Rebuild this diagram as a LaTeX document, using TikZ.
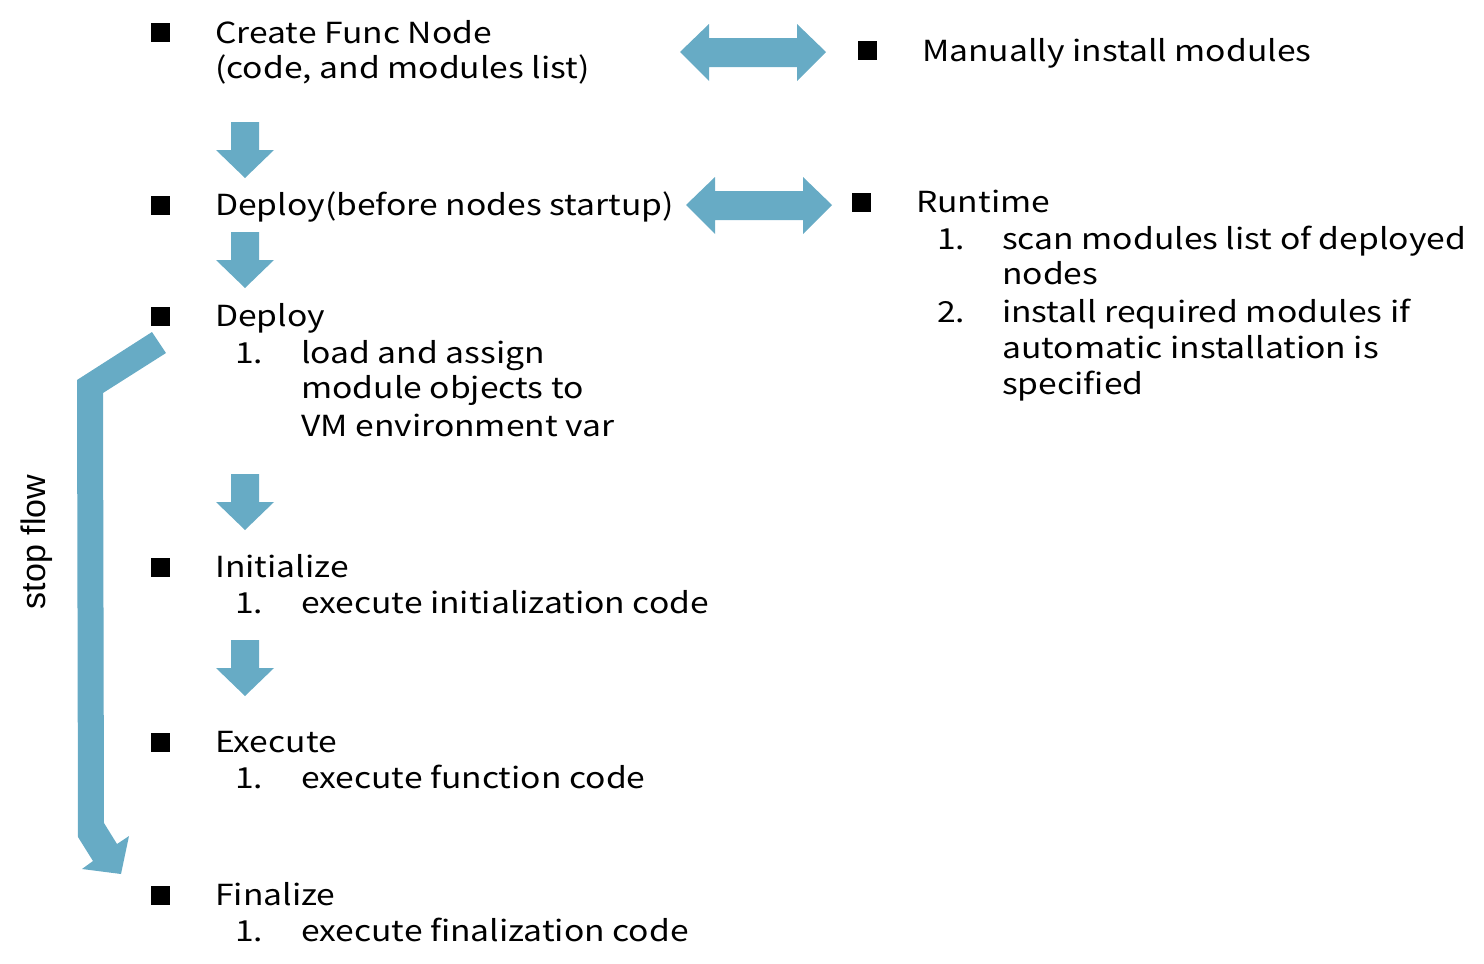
\documentclass[tikz,border=0pt]{standalone}
\usepackage{fontspec}
\newfontfamily\jpfont[FakeStretch=1.16]{Noto Sans CJK JP}
\newfontfamily\arialfont{Liberation Sans}
\definecolor{arrowblue}{RGB}{103,171,197}
\begin{document}
\begin{tikzpicture}[x=1pt,y=-1pt,
  txt/.style={anchor=base west,inner sep=0pt,font=\jpfont\fontsize{29}{35}\selectfont},
  sq/.style={fill=black,inner sep=0pt,minimum size=19pt},
  blockarrow/.style={fill=arrowblue,draw=none}]
\useasboundingbox (0,0) rectangle (1484,964);
% bullets
\node[sq] (b1) at (160,32) {};
\node[sq] (b2) at (160,205) {};
\node[sq] (b3) at (160,316) {};
\node[sq] (b4) at (160,567) {};
\node[sq] (b5) at (160,742) {};
\node[sq] (b6) at (160,895) {};
\node[sq] (b7) at (867,50) {};
\node[sq] (b8) at (861,202) {};
% left column text
\node[txt] (t1) at (215,43) {Create Func Node};
\node[txt] (t1b) at (215,78) {(code, and modules list)};
\node[txt] (t2) at (215,215) {Deploy(before nodes startup)};
\node[txt] (t3) at (215,326) {Deploy};
\node[txt] (t3n) at (235,363) {1.};
\node[txt] (t3a) at (301,363) {load and assign};
\node[txt] (t3b) at (301,398) {module objects to};
\node[txt] (t3c) at (301,436) {VM environment var};
\node[txt] (t4) at (215,577) {Initialize};
\node[txt] (t4n) at (235,613) {1.};
\node[txt] (t4a) at (301,613) {execute initialization code};
\node[txt] (t5) at (215,752) {Execute};
\node[txt] (t5n) at (235,788) {1.};
\node[txt] (t5a) at (301,788) {execute function code};
\node[txt] (t6) at (215,905) {Finalize};
\node[txt] (t6n) at (235,941) {1.};
\node[txt] (t6a) at (301,941) {execute finalization code};
% right column text
\node[txt] (r1) at (922,61) {Manually install modules};
\node[txt] (r2) at (916,212) {Runtime};
\node[txt] (r2n1) at (937,249) {1.};
\node[txt] (r2a) at (1002,249) {scan modules list of deployed};
\node[txt] (r2b) at (1002,284) {nodes};
\node[txt] (r2n2) at (937,322) {2.};
\node[txt] (r2c) at (1002,322) {install required modules if};
\node[txt] (r2d) at (1002,358) {automatic installation is};
\node[txt] (r2e) at (1002,394) {specified};
% stop flow label
\node[rotate=90,inner sep=0pt,font=\arialfont\fontsize{34}{40}\selectfont] (sf) at (37,542) {stop flow};
% double arrows
\fill[blockarrow] (680,52) -- (709,24) -- (709,38) -- (797,38) -- (797,24) -- (826,52) -- (797,81) -- (797,67) -- (709,67) -- (709,81) -- cycle;
\fill[blockarrow] (686,205) -- (715,177) -- (715,191) -- (803,191) -- (803,177) -- (832,205) -- (803,234) -- (803,220) -- (715,220) -- (715,234) -- cycle;
% down arrows
\foreach \yy in {122,232,474,640}{
  \fill[blockarrow] (231,\yy) -- (259,\yy) -- (259,\yy+28) -- (274,\yy+28) -- (245,\yy+56) -- (216,\yy+28) -- (231,\yy+28) -- cycle;
}
% stop flow arrow
\fill[blockarrow] (152,332) -- (166,353) -- (103,393) -- (104,823) -- (117,844) -- (129,836) -- (121,874) -- (82,869) -- (93,861) -- (78,837) -- (77,380) -- cycle;
\end{tikzpicture}
\end{document}
